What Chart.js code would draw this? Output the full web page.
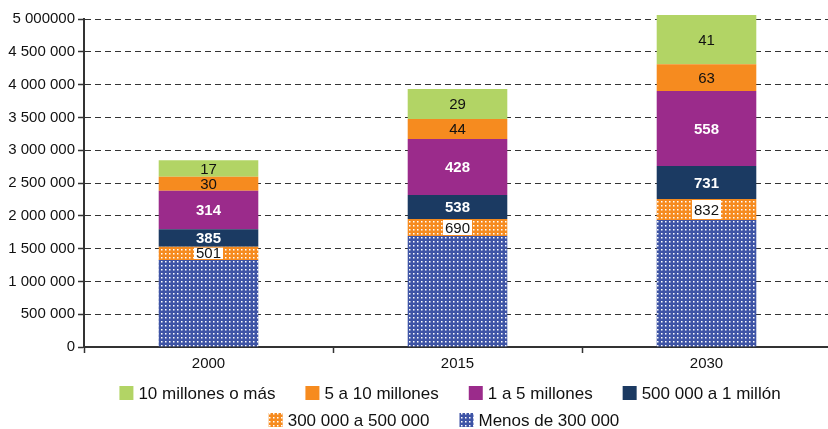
<!DOCTYPE html>
<html>
<head>
<meta charset="utf-8">
<script src="https://cdn.jsdelivr.net/npm/chart.js@4.4.1/dist/chart.umd.min.js"></script>
<style>
  html, body { margin: 0; padding: 0; background: #fff; overflow: hidden; }
  #wrap { width: 828px; height: 429px; overflow: hidden; }
</style>
</head>
<body>
<div id="wrap"><canvas id="chart" width="831" height="429"></canvas></div>
<script>
/* ── DATA ───────────────────────────────────── */
const years = ['2000', '2015', '2030'];

// population living in each city-size class (stack heights)
const menos300k   = [1326000, 1692000, 1936000];
const de300a500k  = [203000, 259000, 320000];
const de500ka1m   = [265000, 366000, 503000];
const de1a5m      = [588000, 854000, 1143000];
const de5a10m     = [213000, 305000, 407000];
const de10mOMas   = [250000, 457000, 752000];

// number of cities in each class (printed inside the segments)
const n300a500k = [501, 690, 832];
const n500ka1m  = [385, 538, 731];
const n1a5m     = [314, 428, 558];
const n5a10m    = [30, 44, 63];
const n10mOMas  = [17, 29, 41];

const yTickLabels = ['0', '500 000', '1 000 000', '1 500 000', '2 000 000',
                     '2 500 000', '3 000 000', '3 500 000', '4 000 000', '4 500 000', '5 000000'];

/* ── STYLE ──────────────────────────────────── */
const FONT = "'Liberation Sans', Arial, sans-serif";
const C = {
    green: '#b2d465',
    orange: '#f68b1f',
    purple: '#9b2b8b',
    navy: '#1b3a62',
    blue: '#3e54a6'
};

// 8px tile drawn at half scale: 4px grid of ~1.5px white dots
function dotPattern(color) {
    const p = document.createElement('canvas');
    p.width = 8; p.height = 8;
    const g = p.getContext('2d');
    g.fillStyle = color;
    g.fillRect(0, 0, 8, 8);
    g.fillStyle = '#ffffff';
    g.fillRect(2, 2, 3, 3);
    const pat = g.createPattern(p, 'repeat');
    if (pat.setTransform) pat.setTransform(new DOMMatrix([0.5, 0, 0, 0.5, 0, 0]));
    return pat;
}

const blueDots = dotPattern(C.blue);
const orangeDots = dotPattern(C.orange);

// bottom to top
const datasets = [
    { label: 'Menos de 300 000', data: menos300k, backgroundColor: blueDots, counts: null },
    { label: '300 000 a 500 000', data: de300a500k, backgroundColor: orangeDots, counts: n300a500k, labelStyle: 'boxed' },
    { label: '500 000 a 1 millón', data: de500ka1m, backgroundColor: C.navy, counts: n500ka1m, labelStyle: 'white' },
    { label: '1 a 5 millones', data: de1a5m, backgroundColor: C.purple, counts: n1a5m, labelStyle: 'white' },
    { label: '5 a 10 millones', data: de5a10m, backgroundColor: C.orange, counts: n5a10m, labelStyle: 'black' },
    { label: '10 millones o más', data: de10mOMas, backgroundColor: C.green, counts: n10mOMas, labelStyle: 'black' }
];

/* ── PLUGINS ────────────────────────────────── */
const segmentLabels = {
    id: 'segmentLabels',
    afterDatasetsDraw(chart) {
        const ctx = chart.ctx;
        ctx.save();
        ctx.textAlign = 'center';
        ctx.textBaseline = 'middle';
        chart.data.datasets.forEach((ds, di) => {
            if (!ds.counts) return;
            chart.getDatasetMeta(di).data.forEach((bar, i) => {
                const { x, y, base } = bar.getProps(['x', 'y', 'base'], true);
                const cy = (y + base) / 2 + 1;
                const txt = String(ds.counts[i]);
                if (ds.labelStyle === 'white') {
                    ctx.font = 'bold 15px ' + FONT;
                    ctx.fillStyle = '#ffffff';
                } else {
                    ctx.font = '15px ' + FONT;
                    ctx.fillStyle = '#111111';
                }
                if (ds.labelStyle === 'boxed') {
                    const w = ctx.measureText(txt).width;
                    ctx.fillStyle = '#ffffff';
                    ctx.fillRect(x - w / 2 - 2, y + 1, w + 4, base - y - 2);
                    ctx.fillStyle = '#111111';
                }
                ctx.fillText(txt, x, cy);
            });
        });
        ctx.restore();
    }
};

// legend in two centred rows, drawn from the datasets (top series first)
const twoRowLegend = {
    id: 'twoRowLegend',
    afterDraw(chart) {
        const ctx = chart.ctx;
        const items = chart.data.datasets.slice().reverse();
        const rows = [items.slice(0, 4), items.slice(4)];
        const rowY = [393, 420];
        const centerX = 450, box = 14, textGap = 5, itemGap = 30;
        ctx.save();
        ctx.font = '17px ' + FONT;
        ctx.textBaseline = 'middle';
        ctx.textAlign = 'left';
        rows.forEach((row, r) => {
            const widths = row.map(it => box + textGap + ctx.measureText(it.label).width);
            const total = widths.reduce((a, b) => a + b, 0) + itemGap * (row.length - 1);
            let x = centerX - total / 2 - (r === 1 ? 6 : 0);
            row.forEach((it, k) => {
                ctx.fillStyle = it.backgroundColor;
                ctx.fillRect(x, rowY[r] - box / 2, box, box);
                ctx.fillStyle = '#111111';
                ctx.fillText(it.label, x + box + textGap, rowY[r] + 1);
                x += widths[k] + itemGap;
            });
        });
        ctx.restore();
    }
};

/* ── CHART ──────────────────────────────────── */
Chart.defaults.font.family = FONT;
Chart.defaults.color = '#111111';

new Chart(document.getElementById('chart'), {
    type: 'bar',
    data: { labels: years, datasets },
    options: {
        responsive: false,
        animation: false,
        devicePixelRatio: 1,
        layout: { padding: { top: 19, right: 0, bottom: 60, left: 0 } },
        datasets: { bar: { barPercentage: 0.8, categoryPercentage: 0.5, borderWidth: 0, clip: false } },
        plugins: { legend: { display: false }, tooltip: { enabled: false } },
        scales: {
            x: {
                stacked: true,
                grid: { drawOnChartArea: false, drawTicks: true, tickLength: 6, tickColor: '#333', tickWidth: 1.5, offset: true },
                border: { color: '#333', width: 2 },
                ticks: { font: { size: 15 }, color: '#111', padding: 2 },
                afterFit: s => { s.height = 22; }
            },
            y: {
                stacked: true,
                min: 0,
                max: 5000000,
                grid: { color: '#333', lineWidth: 1, tickLength: 6, tickColor: '#333', tickWidth: 1.5 },
                border: { color: '#333', width: 2, dash: [6, 4] },
                ticks: {
                    stepSize: 500000,
                    font: { size: 15 },
                    color: '#111',
                    padding: 3,
                    callback: (v, i) => yTickLabels[i]
                },
                afterFit: s => { s.width = 84; }
            }
        }
    },
    plugins: [segmentLabels, twoRowLegend]
});
</script>
</body>
</html>
